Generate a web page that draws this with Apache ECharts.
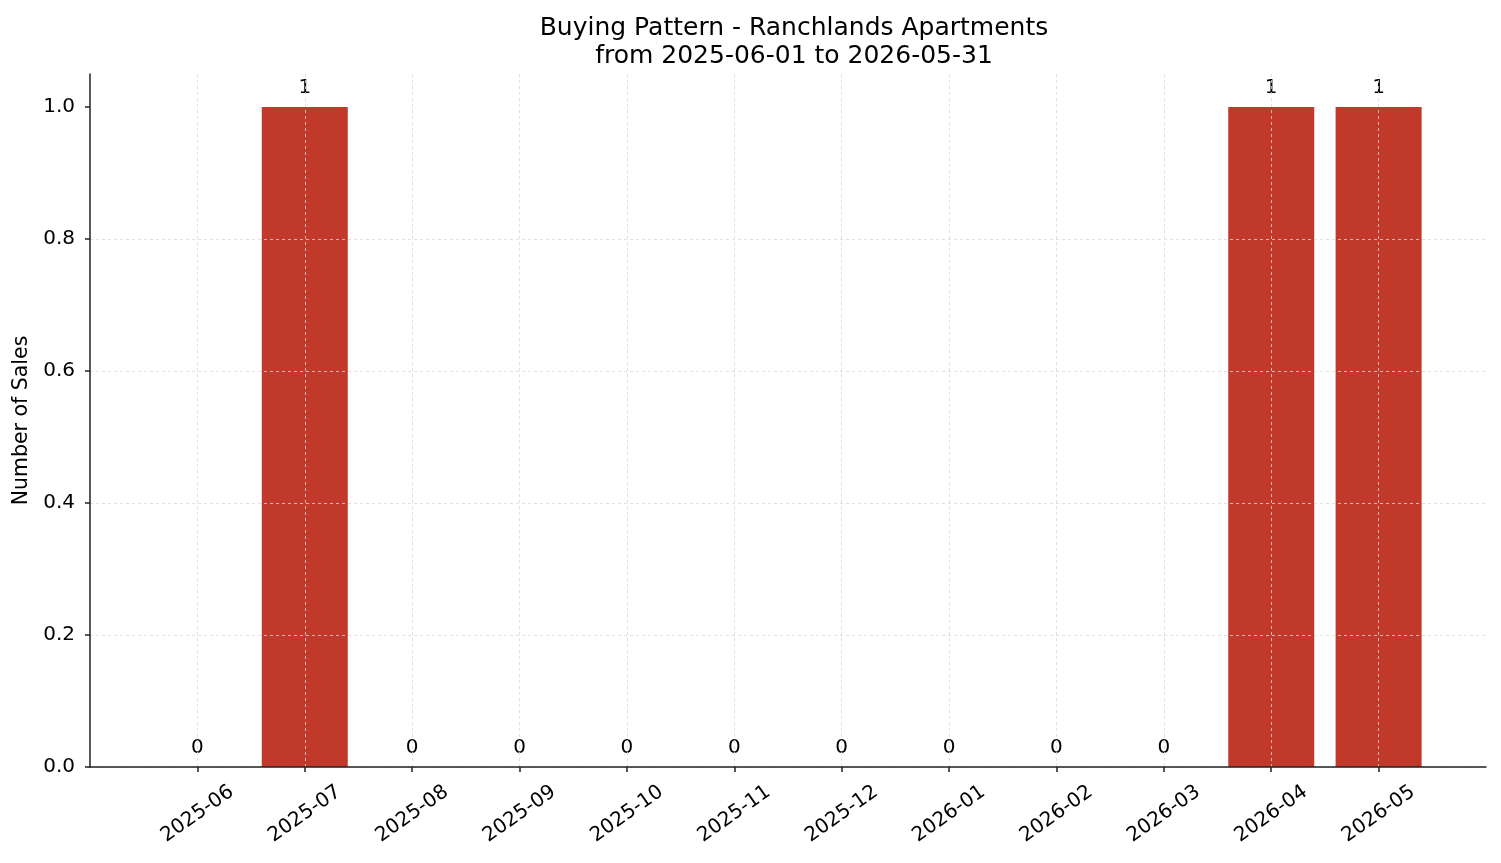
<!DOCTYPE html>
<html>
<head>
<meta charset="utf-8">
<script src="https://cdn.jsdelivr.net/npm/echarts@6/dist/echarts.min.js"></script>
<style>
    html, body { margin: 0; padding: 0; background: #fff; }
    #chart { width: 1501px; height: 863px; }
</style>
</head>
<body>
<div id="chart"></div>
<script>
var months = ['2025-06', '2025-07', '2025-08', '2025-09', '2025-10', '2025-11',
    '2025-12', '2026-01', '2026-02', '2026-03', '2026-04', '2026-05'];
var sales = [0, 1, 0, 0, 0, 0, 0, 0, 0, 0, 1, 1];
var yTicks = [0, 0.2, 0.4, 0.6, 0.8, 1.0];

// one empty slot each side gives the same side margins as the original plot
var xData = [''].concat(months, ['']);
var yData = [null].concat(sales, [null]);

var fontName = 'DejaVu Sans';

var myChart = echarts.init(document.getElementById('chart'));

var inner = function (index) {
    return index > 0 && index < xData.length - 1;
};

var option = {
    backgroundColor: '#ffffff',
    animation: false,
    textStyle: { fontFamily: fontName },
    title: {
        text: 'Buying Pattern - Ranchlands Apartments\nfrom 2025-06-01 to 2026-05-31',
        left: 789,
        top: 9,
        textAlign: 'center',
        textStyle: {
            fontFamily: fontName,
            fontWeight: 'normal',
            fontSize: 25,
            lineHeight: 28,
            color: '#000'
        }
    },
    grid: {
        left: 90,
        right: 15,
        top: 74,
        bottom: 96
    },
    xAxis: {
        type: 'category',
        data: xData,
        boundaryGap: false,
        z: 3,
        axisLine: { lineStyle: { color: '#222', width: 1.5 } },
        axisTick: {
            interval: inner,
            length: 5,
            lineStyle: { color: '#222', width: 1.5 }
        },
        axisLabel: {
            interval: inner,
            rotate: 35,
            align: 'center',
            verticalAlign: 'middle',
            margin: 47,
            fontSize: 20,
            color: '#000',
            fontFamily: fontName
        },
        splitLine: {
            show: true,
            interval: inner,
            lineStyle: { color: '#d8d8d8', type: [3, 3], width: 0.8 }
        }
    },
    yAxis: {
        type: 'value',
        min: 0,
        max: 1.05,
        interval: 0.2,
        z: 3,
        name: 'Number of Sales',
        nameLocation: 'middle',
        nameGap: 55,
        nameTextStyle: { fontSize: 20.5, color: '#000', fontFamily: fontName },
        axisLine: { show: true, lineStyle: { color: '#222', width: 1.5 } },
        axisTick: {
            show: true,
            length: 5,
            customValues: yTicks,
            lineStyle: { color: '#222', width: 1.5 }
        },
        axisLabel: {
            fontSize: 20,
            color: '#000',
            margin: 15,
            fontFamily: fontName,
            customValues: yTicks,
            formatter: function (v) {
                return v.toFixed(1);
            }
        },
        splitLine: {
            show: true,
            showMaxLine: false,
            lineStyle: { color: '#d8d8d8', type: [3, 3], width: 0.8 }
        }
    },
    series: [{
        name: 'Sales',
        type: 'bar',
        data: yData,
        barWidth: 86,
        itemStyle: { color: '#c0392b' },
        label: {
            show: true,
            position: 'top',
            distance: 9,
            fontSize: 20,
            color: '#000',
            fontFamily: fontName
        }
    }]
};
myChart.setOption(option);
</script>
</body>
</html>
